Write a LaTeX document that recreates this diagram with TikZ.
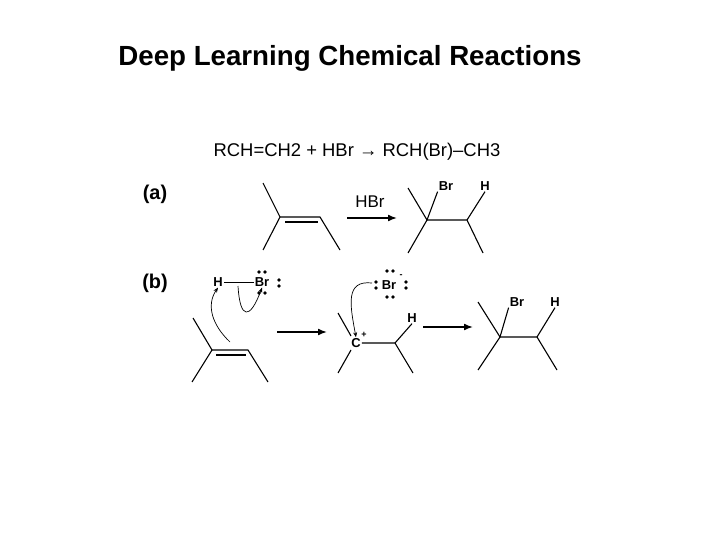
\documentclass[tikz,border=0pt]{standalone}
\usepackage{fontspec}
\setmainfont{Liberation Sans}
\usetikzlibrary{arrows.meta}
\begin{document}
\begin{tikzpicture}[x=1bp,y=-1bp,
  bond/.style={line width=1.1pt},
  rxn/.style={line width=1.6pt,-{Latex[length=9pt,width=7pt]}},
  curly/.style={line width=0.7pt,-{Stealth[length=5pt,width=4pt]}},
  atom/.style={font=\bfseries\fontsize{13}{14}\selectfont,inner sep=1pt},
  lab/.style={font=\bfseries\fontsize{20}{22}\selectfont},
  dot/.style={circle,fill,inner sep=0pt,minimum size=3.6pt}]
\useasboundingbox (0,0) rectangle (720,540);
\node[font=\bfseries\fontsize{27.8}{30}\selectfont] (title) at (350,58) {Deep Learning Chemical Reactions};
\node[font=\fontsize{18.5}{20}\selectfont] (eq) at (357,152) {RCH=CH2 + HBr → RCH(Br)–CH3};
\node[lab] (la) at (155,194) {(a)};
\node[lab] (lb) at (155,283) {(b)};
% (a) alkene
\coordinate (a1) at (280,217); \coordinate (a2) at (320,217);
\draw[bond] (263,183) -- (a1) -- (263,250);
\draw[bond] (a1) -- (a2) -- (340,250);
\draw[bond] (285,222) -- (318,222);
\coordinate (ras) at (347,218); \coordinate (rae) at (397,218);
\draw[rxn] (ras) -- (rae);
\node[font=\fontsize{17}{19}\selectfont] (hbr) at (370,202) {HBr};
% (a) product
\coordinate (p1) at (427,220); \coordinate (p2) at (467,220);
\node[atom] (pbr) at (446,186) {Br};
\node[atom] (ph) at (485,186) {H};
\draw[bond] (408,188) -- (p1) -- (408,253);
\draw[bond] (p1) -- (p2) -- (483,253);
\draw[bond] (p1) -- (pbr.south west);
\draw[bond] (p2) -- (ph.south);
% (b) HBr
\node[atom] (bh) at (218,282) {H};
\node[atom] (bbr) at (262,282) {Br};
\draw[bond,line width=0.8pt] (bh.east) -- (bbr.west);
\node[dot] at (259,272) {}; \node[dot] at (265,272) {};
\node[dot] at (259,293) {}; \node[dot] at (265,293) {};
\node[dot] at (279,280) {}; \node[dot] at (279,286) {};
% (b) alkene
\coordinate (b1) at (212,350); \coordinate (b2) at (248,350);
\draw[bond] (193,318) -- (b1) -- (192,382);
\draw[bond] (b1) -- (b2) -- (268,382);
\draw[bond] (216,355) -- (246,355);
\coordinate (c1s) at (230,342);
\draw[curly] (c1s) .. controls (212,325) and (206,305) .. (bh.south);
\coordinate (c2s) at (238,286);
\draw[curly] (c2s) .. controls (240,320) and (250,320) .. (bbr.south);
\coordinate (rb1s) at (277,332); \coordinate (rb1e) at (327,332);
\draw[rxn] (rb1s) -- (rb1e);
% carbocation
\node[atom] (cp) at (356,343) {C};
\node[font=\bfseries\fontsize{9}{10}\selectfont] (plus) at (364,335) {+};
\coordinate (q2) at (395,343);
\node[atom] (qh) at (412,318) {H};
\draw[bond] (338,313) -- (351,336);
\draw[bond] (351,350) -- (338,373);
\draw[bond] (cp.east) -- (q2) -- (413,373);
\draw[bond] (q2) -- (qh.south);
\node[atom] (brm) at (389,285) {Br};
\node[font=\bfseries\fontsize{9}{10}\selectfont] (minus) at (401,276) {-};
\node[dot] at (376,282) {}; \node[dot] at (376,288) {};
\node[dot] at (387,271) {}; \node[dot] at (393,271) {};
\node[dot] at (387,297) {}; \node[dot] at (393,297) {};
\node[dot] at (406,282) {}; \node[dot] at (406,288) {};
\coordinate (c3s) at (372,283);
\draw[curly] (c3s) .. controls (345,280) and (350,305) .. (cp.north);
\coordinate (rb2s) at (423,327); \coordinate (rb2e) at (473,327);
\draw[rxn] (rb2s) -- (rb2e);
% (b) product
\coordinate (r1) at (500,337); \coordinate (r2) at (537,337);
\node[atom] (rbr) at (517,302) {Br};
\node[atom] (rh) at (555,302) {H};
\draw[bond] (478,302) -- (r1) -- (478,370);
\draw[bond] (r1) -- (r2) -- (557,370);
\draw[bond] (r1) -- (rbr.south west);
\draw[bond] (r2) -- (rh.south);
\end{tikzpicture}
\end{document}
